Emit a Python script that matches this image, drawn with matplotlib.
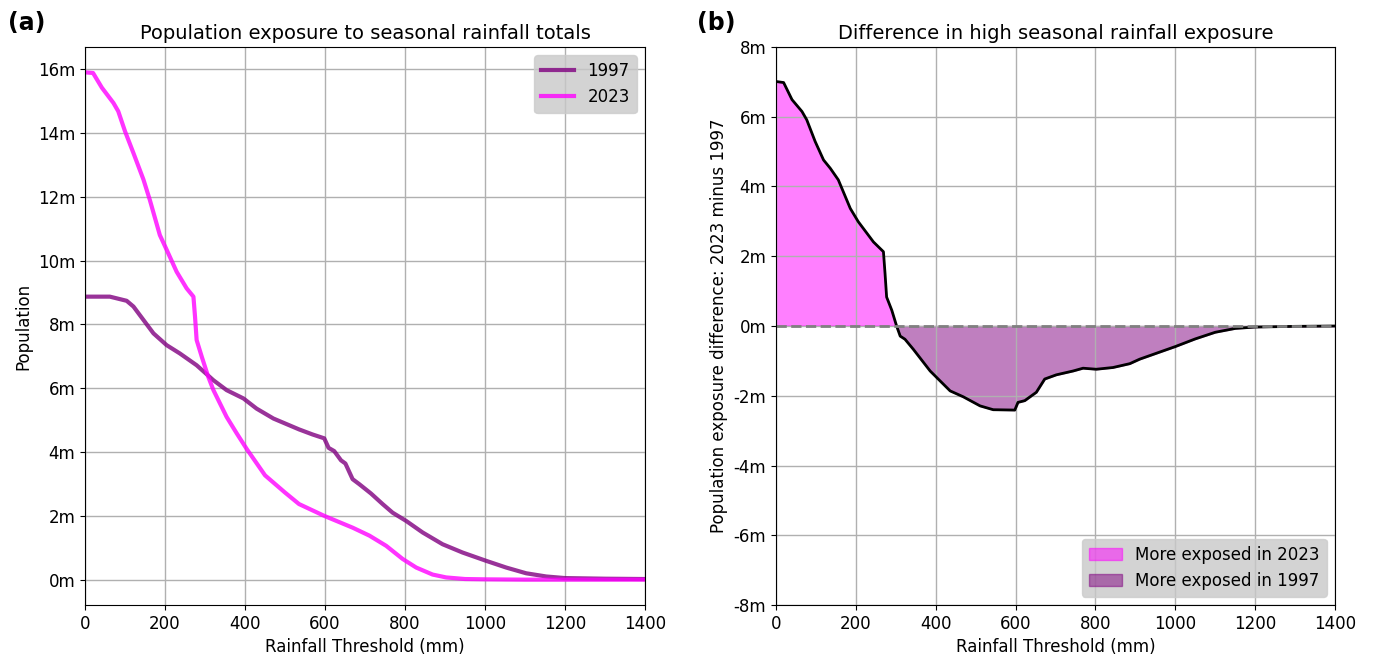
import numpy as np
import matplotlib
matplotlib.use("Agg")
import matplotlib.pyplot as plt
from matplotlib.ticker import FuncFormatter

# rainfall thresholds (mm) and exposed population (millions)
x_2023 = [0, 20, 42, 71, 83, 100, 121, 146, 162, 187, 204, 229, 254, 271, 275, 279,
          292, 308, 321, 354, 379, 404, 450, 500, 535, 598, 669, 711, 753, 794, 828,
          869, 903, 950, 1000, 1100, 1400]
pop_2023 = [15.9, 15.88, 15.42, 14.94, 14.68, 14.05, 13.37, 12.54, 11.9, 10.8, 10.34,
            9.65, 9.13, 8.87, 8.24, 7.51, 6.98, 6.36, 5.94, 5.1, 4.59, 4.1, 3.27, 2.73,
            2.37, 2.0, 1.63, 1.38, 1.06, 0.65, 0.38, 0.16, 0.07, 0.02, 0.01, 0.0, 0.0]

x_1997 = [0, 62, 104, 121, 146, 171, 204, 237, 279, 321, 354, 396, 429, 471, 535, 569,
          598, 609, 623, 640, 651, 669, 686, 715, 744, 769, 803, 844, 894, 944, 1003,
          1053, 1103, 1153, 1200, 1300, 1400]
pop_1997 = [8.87, 8.87, 8.74, 8.56, 8.14, 7.72, 7.35, 7.09, 6.72, 6.25, 5.94, 5.68, 5.36,
            5.05, 4.71, 4.55, 4.43, 4.13, 4.03, 3.74, 3.64, 3.15, 2.99, 2.70, 2.37, 2.10,
            1.84, 1.48, 1.11, 0.85, 0.59, 0.38, 0.20, 0.10, 0.05, 0.03, 0.02]

x_diff = [0, 19, 40, 65, 77, 98, 119, 136, 156, 186, 206, 244, 269, 273, 277, 290, 302,
          311, 323, 344, 386, 436, 469, 511, 544, 598, 606, 623, 652, 673, 702, 744, 769,
          802, 844, 886, 911, 1000, 1050, 1100, 1150, 1200, 1300, 1400]
diff = [7.01, 6.98, 6.49, 6.15, 5.91, 5.29, 4.76, 4.52, 4.19, 3.37, 2.99, 2.41, 2.13,
        1.51, 0.83, 0.45, 0.0, -0.29, -0.38, -0.67, -1.29, -1.86, -2.03, -2.29, -2.40,
        -2.41, -2.19, -2.14, -1.90, -1.52, -1.40, -1.29, -1.21, -1.24, -1.19, -1.08,
        -0.95, -0.59, -0.37, -0.18, -0.07, -0.03, -0.01, 0.0]

millions = FuncFormatter(lambda v, pos: f"{v / 1e6:.0f}m")

fig = plt.figure(figsize=(13.74, 6.57), dpi=100)
ax1 = fig.add_axes([0.0619, 0.0791, 0.4075, 0.8494])
ax2 = fig.add_axes([0.5648, 0.0791, 0.4068, 0.8494])

# (a) exposure curves
ax1.plot(x_1997, np.array(pop_1997) * 1e6, color="purple", alpha=0.8, lw=3, label="1997")
ax1.plot(x_2023, np.array(pop_2023) * 1e6, color="magenta", alpha=0.8, lw=3, label="2023")
ax1.set_xlim(0, 1400)
ax1.yaxis.set_major_formatter(millions)
ax1.set_title("Population exposure to seasonal rainfall totals", fontsize=14)
ax1.set_xlabel("Rainfall Threshold (mm)", fontsize=12)
ax1.set_ylabel("Population", fontsize=12)
ax1.tick_params(labelsize=12)
ax1.grid(True, color="#b0b0b0", lw=1)
ax1.legend(loc="upper right", fontsize=12, facecolor="#c8c8c8", framealpha=0.8)

# (b) difference
d = np.array(diff) * 1e6
xd = np.array(x_diff)
ax2.fill_between(xd, d, 0, where=d >= 0, interpolate=True, color="magenta", alpha=0.5,
                 label="More exposed in 2023")
ax2.fill_between(xd, d, 0, where=d <= 0, interpolate=True, color="purple", alpha=0.5,
                 label="More exposed in 1997")
ax2.plot(xd, d, color="black", lw=2)
ax2.axhline(0, color="gray", ls="--", lw=2)
ax2.set_xlim(0, 1400)
ax2.set_ylim(-8e6, 8e6)
ax2.yaxis.set_major_formatter(millions)
ax2.set_title("Difference in high seasonal rainfall exposure", fontsize=14)
ax2.set_xlabel("Rainfall Threshold (mm)", fontsize=12)
ax2.set_ylabel("Population exposure difference: 2023 minus 1997", fontsize=12)
ax2.tick_params(labelsize=12)
ax2.grid(True, color="#b0b0b0", lw=1)
ax2.legend(loc="lower right", fontsize=12, facecolor="#c8c8c8", framealpha=0.8)

fig.text(0.006, 0.955, "(a)", fontsize=17, fontweight="bold")
fig.text(0.507, 0.955, "(b)", fontsize=17, fontweight="bold")

fig.savefig("out.png", dpi=100)
